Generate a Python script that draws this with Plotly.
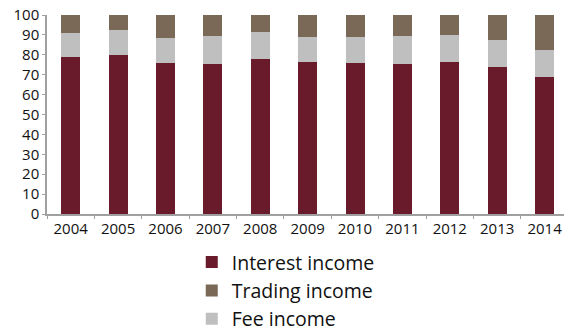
import plotly.graph_objects as go

years = ["2004", "2005", "2006", "2007", "2008", "2009", "2010", "2011", "2012", "2013", "2014"]
interest = [79, 80, 76, 75.5, 78, 76.5, 76, 75.5, 76.5, 74, 69]
fee = [12, 12.3, 12.2, 13.7, 13.3, 12.6, 12.7, 13.7, 13.7, 13.6, 13.2]
trading = [9.0, 7.7, 11.8, 10.8, 8.7, 10.9, 11.3, 10.8, 9.8, 12.4, 17.8]

c_interest = "#6A1B2B"
c_trading = "#7A6956"
c_fee = "#BFBFBF"

fig = go.Figure()
fig.add_trace(go.Bar(x=years, y=interest, name="Interest income", marker_color=c_interest,
                     marker_line_width=0, legendrank=1))
fig.add_trace(go.Bar(x=years, y=fee, name="Fee income", marker_color=c_fee,
                     marker_line_width=0, legendrank=3))
fig.add_trace(go.Bar(x=years, y=trading, name="Trading income", marker_color=c_trading,
                     marker_line_width=0, legendrank=2))

axis_col = "#A0A0A0"
fig.update_layout(
    barmode="stack",
    bargap=0.6,
    width=564, height=335,
    margin=dict(l=47, r=0, t=15, b=121, autoexpand=False),
    paper_bgcolor="white", plot_bgcolor="white",
    font=dict(family="Open Sans", color="#111111", size=15),
    showlegend=True,
    legend=dict(orientation="v", traceorder="normal", x=0.28, xanchor="left",
                yref="container", y=0.275, yanchor="top",
                font=dict(size=19.5), tracegroupgap=0, bgcolor="rgba(0,0,0,0)"),
    xaxis=dict(type="category", range=[-0.5, 10.41], showline=True, linecolor=axis_col,
               linewidth=1.5, ticks="outside", tickcolor=axis_col, ticklen=3,
               tickson="boundaries", showgrid=False, zeroline=False),
    yaxis=dict(range=[0, 100], dtick=10, showline=True, linecolor=axis_col, linewidth=1.5,
               ticks="outside", tickcolor=axis_col, ticklen=3, showgrid=False,
               zeroline=False),
)

fig.write_html("out.html", config={"displayModeBar": False},
               post_script="document.body.style.margin='0';")
